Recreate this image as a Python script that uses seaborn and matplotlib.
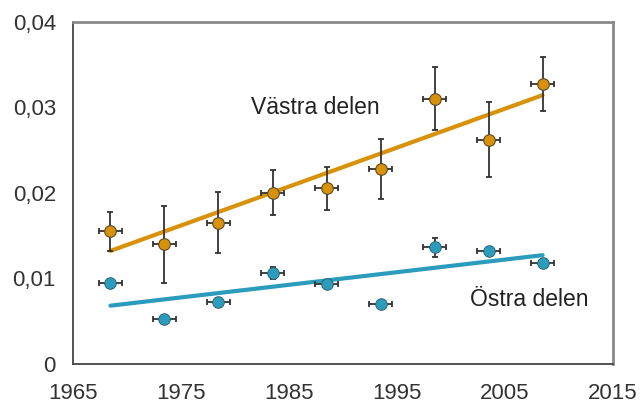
import pandas as pd
import matplotlib.pyplot as plt
import seaborn as sns

years = [1968.5, 1973.5, 1978.5, 1983.5, 1988.5, 1993.5, 1998.5, 2003.5, 2008.5]
vastra = [0.0155, 0.0140, 0.0165, 0.0200, 0.0205, 0.0228, 0.0310, 0.0262, 0.0327]
vastra_err = [0.0023, 0.0045, 0.0036, 0.0026, 0.0025, 0.0035, 0.0037, 0.0044, 0.0032]
ostra = [0.0094, 0.0052, 0.0072, 0.0106, 0.0093, 0.0070, 0.0136, 0.0132, 0.0118]
ostra_err = [0.0005, 0.0003, 0.0005, 0.0007, 0.0004, 0.0003, 0.0011, 0.0004, 0.0005]
year_err = 1.1

trend_years = [1968.5, 2008.5]
trend_vastra = [0.0132, 0.0314]
trend_ostra = [0.0068, 0.0127]

xticks = [1965, 1975, 1985, 1995, 2005, 2015]
yticks = [0, 0.01, 0.02, 0.03, 0.04]
ytick_labels = ["0", "0,01", "0,02", "0,03", "0,04"]

orange = "#d8920a"
blue = "#2c9cbd"

df = pd.DataFrame({"year": years, "vastra": vastra, "ostra": ostra})
trend = pd.DataFrame({"year": trend_years, "vastra": trend_vastra, "ostra": trend_ostra})

sns.set_style("white")
plt.rcParams["font.family"] = ["Liberation Sans", "DejaVu Sans"]

fig = plt.figure(figsize=(6.43, 4.07), dpi=100)
ax = fig.add_axes([0.113, 0.106, 0.840, 0.841])

sns.lineplot(data=trend, x="year", y="vastra", color=orange, lw=3, ax=ax, zorder=2)
sns.lineplot(data=trend, x="year", y="ostra", color=blue, lw=3, ax=ax, zorder=2)

ax.errorbar(years, vastra, yerr=vastra_err, xerr=year_err, fmt="none",
            ecolor="#333333", elinewidth=1.3, capsize=2.5, capthick=1.3, zorder=3)
ax.errorbar(years, ostra, yerr=ostra_err, xerr=year_err, fmt="none",
            ecolor="#333333", elinewidth=1.3, capsize=2.5, capthick=1.3, zorder=3)

sns.scatterplot(data=df, x="year", y="vastra", color=orange, s=70,
                edgecolor="#5a4a2a", linewidth=0.8, ax=ax, zorder=4)
sns.scatterplot(data=df, x="year", y="ostra", color=blue, s=70,
                edgecolor="#2a5a6a", linewidth=0.6, ax=ax, zorder=4)

ax.text(1987.5, 0.0300, "Västra delen", fontsize=16.5, ha="center", va="center", color="#222222")
ax.text(2007.3, 0.0075, "Östra delen", fontsize=16.5, ha="center", va="center", color="#222222")

ax.set_xlim(1965, 2015)
ax.set_ylim(0, 0.04)
ax.set_xticks(xticks)
ax.set_yticks(yticks)
ax.set_yticklabels(ytick_labels)
ax.set_xlabel("")
ax.set_ylabel("")
ax.tick_params(axis="both", labelsize=16, colors="#333333", direction="out",
               length=6, width=1.2)
ax.tick_params(axis="x", pad=8)
ax.tick_params(axis="y", pad=6)

for side in ["left", "bottom"]:
    ax.spines[side].set_color("#444444")
    ax.spines[side].set_linewidth(1.3)
for side in ["top", "right"]:
    ax.spines[side].set_color("#8a8a8a")
    ax.spines[side].set_linewidth(2)

fig.savefig("out.png", dpi=100)
